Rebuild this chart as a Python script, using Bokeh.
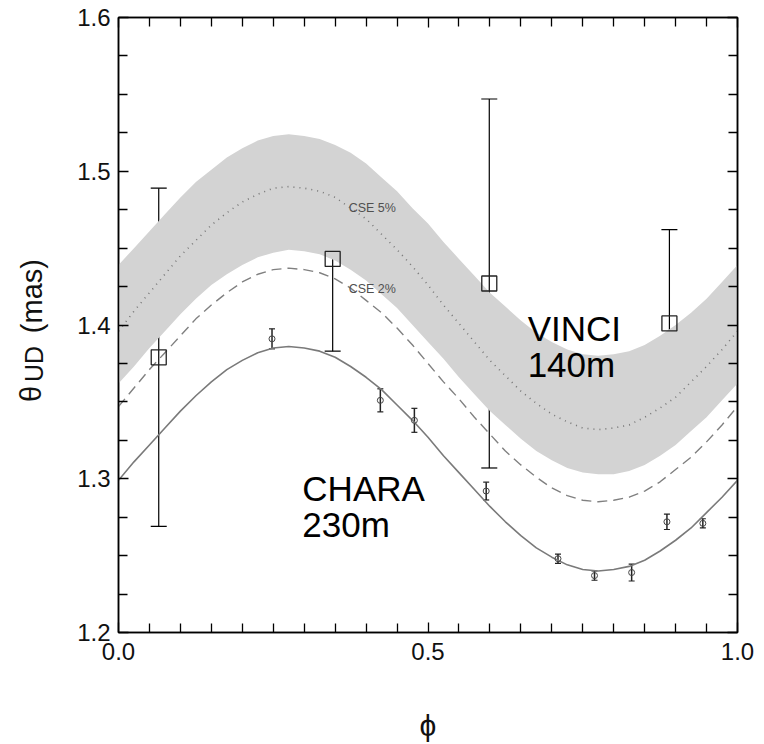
from math import pi
from bokeh.plotting import figure
from bokeh.layouts import row
from bokeh.models import Range1d, LinearAxis, FixedTicker, Whisker, TeeHead, ColumnDataSource
from bokeh.embed import file_html
from bokeh.resources import INLINE
from bokeh.core.properties import value

# ---------------- data ----------------
phase = [0.000, 0.025, 0.050, 0.075, 0.100, 0.125, 0.150, 0.175, 0.200, 0.225,
         0.250, 0.275, 0.300, 0.325, 0.350, 0.375, 0.400, 0.425, 0.450, 0.475,
         0.500, 0.525, 0.550, 0.575, 0.600, 0.625, 0.650, 0.675, 0.700, 0.725,
         0.750, 0.775, 0.800, 0.825, 0.850, 0.875, 0.900, 0.925, 0.950, 0.975, 1.000]

chara_model = [1.299, 1.311, 1.322, 1.333, 1.344, 1.354, 1.363, 1.371, 1.377, 1.382,
               1.385, 1.386, 1.385, 1.383, 1.379, 1.373, 1.366, 1.358, 1.348, 1.338,
               1.327, 1.315, 1.304, 1.293, 1.282, 1.272, 1.263, 1.255, 1.249, 1.244,
               1.241, 1.240, 1.241, 1.243, 1.247, 1.253, 1.260, 1.268, 1.278, 1.288, 1.299]

cse2_model = [1.347, 1.359, 1.371, 1.382, 1.393, 1.404, 1.413, 1.421, 1.428, 1.433,
              1.436, 1.437, 1.436, 1.434, 1.430, 1.424, 1.416, 1.408, 1.398, 1.387,
              1.375, 1.363, 1.352, 1.340, 1.329, 1.318, 1.309, 1.301, 1.294, 1.289,
              1.286, 1.285, 1.286, 1.288, 1.292, 1.298, 1.306, 1.314, 1.324, 1.335, 1.347]

cse5_model = [1.396, 1.409, 1.421, 1.433, 1.445, 1.455, 1.465, 1.473, 1.480, 1.485,
              1.489, 1.490, 1.489, 1.487, 1.483, 1.476, 1.469, 1.459, 1.449, 1.438,
              1.426, 1.413, 1.401, 1.389, 1.377, 1.367, 1.357, 1.349, 1.342, 1.337,
              1.333, 1.332, 1.333, 1.335, 1.340, 1.346, 1.353, 1.363, 1.373, 1.384, 1.396]

band_upper = [1.439, 1.450, 1.461, 1.472, 1.483, 1.493, 1.501, 1.509, 1.515, 1.520,
              1.523, 1.524, 1.523, 1.521, 1.517, 1.512, 1.505, 1.496, 1.487, 1.476,
              1.466, 1.454, 1.443, 1.432, 1.421, 1.412, 1.403, 1.395, 1.389, 1.384,
              1.381, 1.380, 1.381, 1.383, 1.387, 1.393, 1.400, 1.408, 1.417, 1.428, 1.439]

band_lower = [1.362, 1.373, 1.385, 1.396, 1.407, 1.417, 1.426, 1.433, 1.439, 1.444,
              1.447, 1.449, 1.448, 1.446, 1.442, 1.436, 1.429, 1.420, 1.411, 1.400,
              1.389, 1.378, 1.366, 1.355, 1.344, 1.335, 1.326, 1.318, 1.312, 1.307,
              1.304, 1.303, 1.303, 1.305, 1.309, 1.315, 1.322, 1.331, 1.340, 1.351, 1.362]

vinci_phase = [0.065, 0.346, 0.599, 0.890]
vinci_theta = [1.379, 1.443, 1.427, 1.401]
vinci_err = [0.110, 0.060, 0.120, 0.061]

chara_phase = [0.248, 0.423, 0.478, 0.594, 0.710, 0.769, 0.829, 0.886, 0.944]
chara_theta = [1.391, 1.351, 1.338, 1.292, 1.248, 1.237, 1.239, 1.272, 1.271]
chara_err = [0.0065, 0.0075, 0.0078, 0.0058, 0.0030, 0.0030, 0.0055, 0.0050, 0.0030]

x_major = [0.0, 0.5, 1.0]
x_minor = [0.05, 0.10, 0.15, 0.20, 0.25, 0.30, 0.35, 0.40, 0.45,
           0.55, 0.60, 0.65, 0.70, 0.75, 0.80, 0.85, 0.90, 0.95]
y_major = [1.2, 1.3, 1.4, 1.5, 1.6]
y_minor = [1.225, 1.25, 1.275, 1.325, 1.35, 1.375, 1.425, 1.45, 1.475, 1.525, 1.55, 1.575]

FONT = "Liberation Sans"

# ---------------- narrow panel holding the y-axis title (theta_UD (mas)) ----------------
lab = figure(width=60, height=744, output_backend="svg", toolbar_location=None,
             x_range=Range1d(0, 1), y_range=Range1d(1.2, 1.6),
             min_border_left=0, min_border_right=0, min_border_top=17, min_border_bottom=111)
lab.axis.visible = False
lab.grid.visible = False
lab.outline_line_color = None
lab.background_fill_color = "white"
lab.border_fill_color = "white"
for txt, lx, ly, fs in [("\u03b8", 0.50, 1.3552, "29px"),
                        ("UD", 0.55, 1.3747, "25px"),
                        ("(mas)", 0.533, 1.4188, "29px")]:
    lab.text(x=[lx], y=[ly], text=[txt], angle=pi / 2, text_font=value(FONT),
             text_font_size=fs, text_color="#111111", text_align="center", text_baseline="middle")

# ---------------- main figure ----------------
p = figure(width=704, height=744, output_backend="svg", toolbar_location=None,
           x_range=Range1d(0, 1), y_range=Range1d(1.2, 1.6),
           min_border_left=58, min_border_right=27, min_border_top=17, min_border_bottom=111)
p.xgrid.visible = False
p.ygrid.visible = False
p.outline_line_color = "black"
p.outline_line_width = 1.5
p.background_fill_color = "white"
p.border_fill_color = "white"

def style_axis(ax, ticks, minor, show_labels):
    ax.ticker = FixedTicker(ticks=ticks, minor_ticks=minor)
    ax.axis_line_color = "black"
    ax.axis_line_width = 1.5
    ax.major_tick_in = 10
    ax.major_tick_out = 0
    ax.minor_tick_in = 9
    ax.minor_tick_out = 0
    ax.major_tick_line_color = "black"
    ax.minor_tick_line_color = "black"
    ax.major_tick_line_width = 1.3
    ax.minor_tick_line_width = 1.3
    ax.major_label_text_font = FONT
    ax.major_label_text_font_size = "24px"
    ax.major_label_text_color = "#111111"
    if not show_labels:
        ax.major_label_text_alpha = 0
        ax.major_label_text_font_size = "1px"
        ax.major_label_standoff = 0

xa = p.xaxis[0]
ya = p.yaxis[0]
style_axis(xa, x_major, x_minor, True)
style_axis(ya, y_major, y_minor, True)
xa.major_label_overrides = {0.0: "0.0", 0.5: "0.5", 1.0: "1.0"}
ya.major_label_overrides = {1.2: "1.2", 1.3: "1.3", 1.4: "1.4", 1.5: "1.5", 1.6: "1.6"}
xa.major_label_standoff = 10
ya.major_label_standoff = 8
xa.axis_label = "\u03d5"
xa.axis_label_text_font = FONT
xa.axis_label_text_font_size = "30px"
xa.axis_label_text_font_style = "normal"
xa.axis_label_text_color = "#111111"
xa.axis_label_standoff = 46

top = LinearAxis()
right = LinearAxis()
style_axis(top, x_major, x_minor, False)
style_axis(right, y_major, y_minor, False)
p.add_layout(top, "above")
p.add_layout(right, "right")

# shaded band and model curves
p.varea(x=phase, y1=band_lower, y2=band_upper, fill_color="#d3d3d3")
p.line(phase, cse5_model, line_color="#777777", line_width=1.6, line_dash="1 5")
p.line(phase, cse2_model, line_color="#808080", line_width=1.4, line_dash="10 6")
p.line(phase, chara_model, line_color="#7a7a7a", line_width=1.6)

# VINCI points
vsrc = ColumnDataSource(dict(x=vinci_phase, y=vinci_theta,
                             upper=[v + e for v, e in zip(vinci_theta, vinci_err)],
                             lower=[v - e for v, e in zip(vinci_theta, vinci_err)]))
p.add_layout(Whisker(source=vsrc, base="x", upper="upper", lower="lower", dimension="height",
                     line_color="black", line_width=1.2,
                     upper_head=TeeHead(size=16, line_color="black", line_width=1.2),
                     lower_head=TeeHead(size=16, line_color="black", line_width=1.2)))
p.scatter("x", "y", source=vsrc, marker="square", size=15, fill_alpha=0,
          line_color="#222222", line_width=1.3)

# CHARA points
csrc = ColumnDataSource(dict(x=chara_phase, y=chara_theta,
                             upper=[v + e for v, e in zip(chara_theta, chara_err)],
                             lower=[v - e for v, e in zip(chara_theta, chara_err)]))
p.add_layout(Whisker(source=csrc, base="x", upper="upper", lower="lower", dimension="height",
                     line_color="#222222", line_width=1.5,
                     upper_head=TeeHead(size=6, line_color="#222222", line_width=1.2),
                     lower_head=TeeHead(size=6, line_color="#222222", line_width=1.2)))
p.scatter("x", "y", source=csrc, marker="circle", size=6, fill_alpha=0,
          line_color="#444444", line_width=1.0)

# text annotations
p.text(x=[0.41, 0.41], y=[1.476, 1.4235], text=["CSE 5%", "CSE 2%"],
       text_font=value(FONT), text_font_size="12.5px", text_color="#505050",
       text_align="center", text_baseline="middle")
p.text(x=[0.661, 0.661], y=[1.398, 1.374], text=["VINCI", "140m"],
       text_font=value(FONT), text_font_size="35px", text_color="black",
       text_align="left", text_baseline="middle")
p.text(x=[0.297, 0.297], y=[1.2935, 1.270], text=["CHARA", "230m"],
       text_font=value(FONT), text_font_size="35px", text_color="black",
       text_align="left", text_baseline="middle")

layout = row(lab, p, spacing=0)
open("out.html", "w").write(file_html(layout, INLINE))
